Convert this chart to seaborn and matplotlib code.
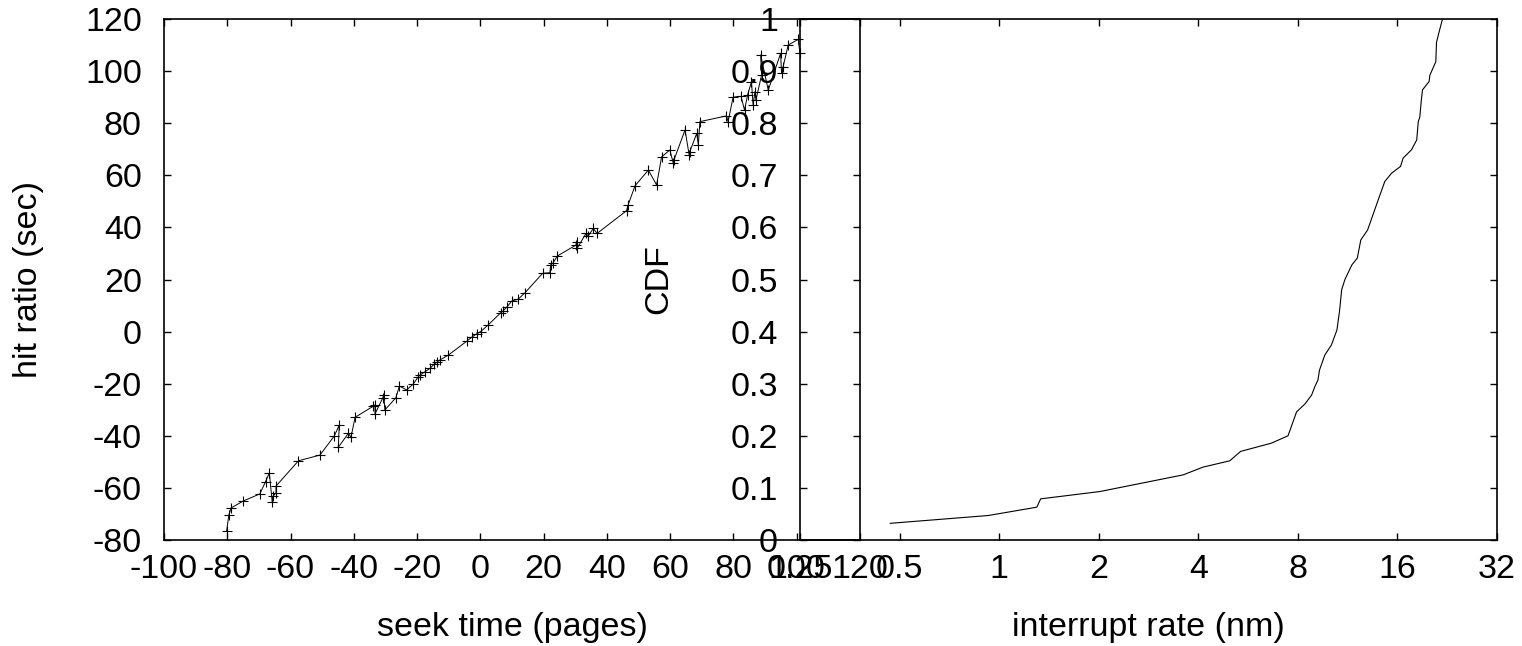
import matplotlib
matplotlib.use("Agg")
import matplotlib.pyplot as plt
import numpy as np
import pandas as pd
import seaborn as sns

# left panel: seek time vs hit ratio (points in drawing order)
seek_time = [
    -80.2, -79.5, -78.8, -74.9, -69.7, -67.9, -66.7, -65.8, -65.5, -64.6,
    -64.6, -57.5, -50.7, -46.2, -44.6, -44.9, -41.7, -40.9, -39.6, -33.8,
    -33.3, -33.3, -30.9, -30.5, -30.2, -26.7, -25.6, -23.3, -21.2, -19.6,
    -19.1, -17.5, -15.9, -14.7, -13.8, -12.8, -10.1, -4.1, -2.8, -1.2,
    0.1, 2.5, 6.5, 7.2, 8.3, 9.9, 12.0, 14.1, 19.7, 22.0,
    22.2, 22.9, 24.3, 30.2, 30.4, 30.6, 33.4, 34.1, 35.7, 36.9,
    46.2, 46.7, 48.9, 53.1, 55.7, 57.3, 59.9, 61.0, 61.2, 64.7,
    66.0, 66.2, 68.4, 68.9, 69.4, 77.8, 78.3, 79.9, 82.4, 83.5,
    84.5, 85.7, 86.2, 86.8, 87.1, 88.9, 88.6, 91.0, 94.9, 95.2,
    95.7, 97.3, 100.5, 101.0,
]
hit_ratio = [
    -76.5, -70.4, -67.7, -65.0, -62.3, -57.6, -54.2, -65.3, -63.1, -62.0,
    -59.3, -49.6, -47.4, -40.1, -35.9, -44.4, -39.0, -40.6, -32.9, -28.6,
    -28.2, -31.6, -25.6, -24.3, -30.1, -25.4, -20.9, -22.4, -20.1, -17.3,
    -16.7, -15.4, -14.1, -12.6, -11.8, -10.9, -9.0, -3.5, -2.2, -0.9,
    0.0, 2.6, 7.3, 8.0, 9.3, 11.7, 12.5, 14.9, 22.4, 22.6,
    25.6, 26.2, 29.0, 33.2, 34.5, 32.0, 37.7, 36.7, 39.6, 37.7,
    46.4, 48.6, 56.0, 62.0, 56.3, 67.1, 69.7, 64.6, 65.9, 77.4,
    67.8, 69.1, 76.1, 71.6, 80.6, 82.8, 80.6, 90.0, 90.3, 85.0,
    91.0, 95.9, 87.0, 92.1, 88.9, 98.5, 106.2, 92.7, 106.8, 99.1,
    101.7, 110.0, 112.2, 106.8,
]

# right panel: CDF of interrupt rate
interrupt_rate = [
    0.468, 0.927, 1.30, 1.335, 2.016, 3.6, 4.14, 4.98, 5.37, 6.66,
    7.47, 7.93, 8.4, 8.8, 9.0, 9.2, 9.3, 9.65, 10.1, 10.5,
    10.7, 10.85, 11.1, 11.65, 12.1, 12.4, 13.0, 14.0, 14.65, 15.36,
    16.35, 16.65, 17.65, 18.3, 18.5, 18.7, 18.9, 19.05, 19.95, 20.05,
    20.9, 21.0, 21.4, 21.9,
]
cdf = [
    0.032, 0.047, 0.063, 0.079, 0.093, 0.125, 0.14, 0.152, 0.17, 0.186,
    0.2, 0.246, 0.261, 0.278, 0.294, 0.307, 0.326, 0.355, 0.374, 0.403,
    0.441, 0.48, 0.5, 0.528, 0.541, 0.576, 0.595, 0.653, 0.688, 0.704,
    0.717, 0.733, 0.749, 0.768, 0.803, 0.812, 0.845, 0.864, 0.88, 0.892,
    0.918, 0.955, 0.976, 1.0,
]

left_xticks = [-100, -80, -60, -40, -20, 0, 20, 40, 60, 80, 100, 120]
left_yticks = [-80, -60, -40, -20, 0, 20, 40, 60, 80, 100, 120]
right_xticks = [0.25, 0.5, 1, 2, 4, 8, 16, 32]
right_xlabels = ["0.25", "0.5", "1", "2", "4", "8", "16", "32"]
right_yticks = [0, 0.1, 0.2, 0.3, 0.4, 0.5, 0.6, 0.7, 0.8, 0.9, 1.0]
right_ylabels = ["0", "0.1", "0.2", "0.3", "0.4", "0.5", "0.6", "0.7", "0.8", "0.9", "1"]

sns.set_style("white")
plt.rcParams["font.family"] = ["Liberation Sans", "DejaVu Sans"]
plt.rcParams["axes.unicode_minus"] = False
for key in ("text.color", "axes.labelcolor", "xtick.color", "ytick.color"):
    plt.rcParams[key] = "black"

W, H = 1522, 646
fig = plt.figure(figsize=(W / 100, H / 100), dpi=100)

bottom = (H - 540) / H
height = (540 - 19) / H
ax1 = fig.add_axes([164 / W, bottom, (860 - 164) / W, height])
ax2 = fig.add_axes([800 / W, bottom, (1497 - 800) / W, height])
ax2.set_facecolor("none")

left_df = pd.DataFrame({"seek": seek_time, "hit": hit_ratio})
sns.lineplot(data=left_df, x="seek", y="hit", ax=ax1, estimator=None, sort=False,
             color="black", linewidth=0.7, marker="+", markersize=7,
             markeredgewidth=0.8, markeredgecolor="black")

right_df = pd.DataFrame({"rate": interrupt_rate, "cdf": cdf})
sns.lineplot(data=right_df, x="rate", y="cdf", ax=ax2, estimator=None, sort=False,
             color="black", linewidth=0.8)

fs = 24.5
tick_kw = dict(direction="in", length=5, width=1.0, labelsize=fs,
               top=True, right=True, bottom=True, left=True)

ax1.set_xlim(-100, 120)
ax1.set_ylim(-80, 120)
ax1.set_xticks(left_xticks)
ax1.set_yticks(left_yticks)
ax1.tick_params(axis="x", pad=10, **tick_kw)
ax1.tick_params(axis="y", pad=16, **tick_kw)
ax1.set_xlabel("seek time (pages)", fontsize=fs)
ax1.set_ylabel("hit ratio (sec)", fontsize=fs)
ax1.xaxis.set_label_coords(0.5, -0.138)
ax1.yaxis.set_label_coords(-0.172, 0.5)

ax2.set_xscale("log", base=2)
ax2.set_xlim(0.25, 32)
ax2.set_ylim(0, 1)
ax2.set_xticks(right_xticks)
ax2.set_xticklabels(right_xlabels)
ax2.xaxis.set_minor_locator(matplotlib.ticker.NullLocator())
ax2.set_yticks(right_yticks)
ax2.set_yticklabels(right_ylabels)
ax2.tick_params(axis="x", pad=10, **tick_kw)
ax2.tick_params(axis="y", pad=16, **tick_kw)
ax2.set_xlabel("interrupt rate (nm)", fontsize=fs)
ax2.set_ylabel("CDF", fontsize=fs)
ax2.xaxis.set_label_coords(0.5, -0.138)
ax2.yaxis.set_label_coords(-0.181, 0.5)

for ax in (ax1, ax2):
    for sp in ax.spines.values():
        sp.set_visible(True)
        sp.set_color("black")
        sp.set_linewidth(1.2)

fig.savefig("out.png", dpi=100)
